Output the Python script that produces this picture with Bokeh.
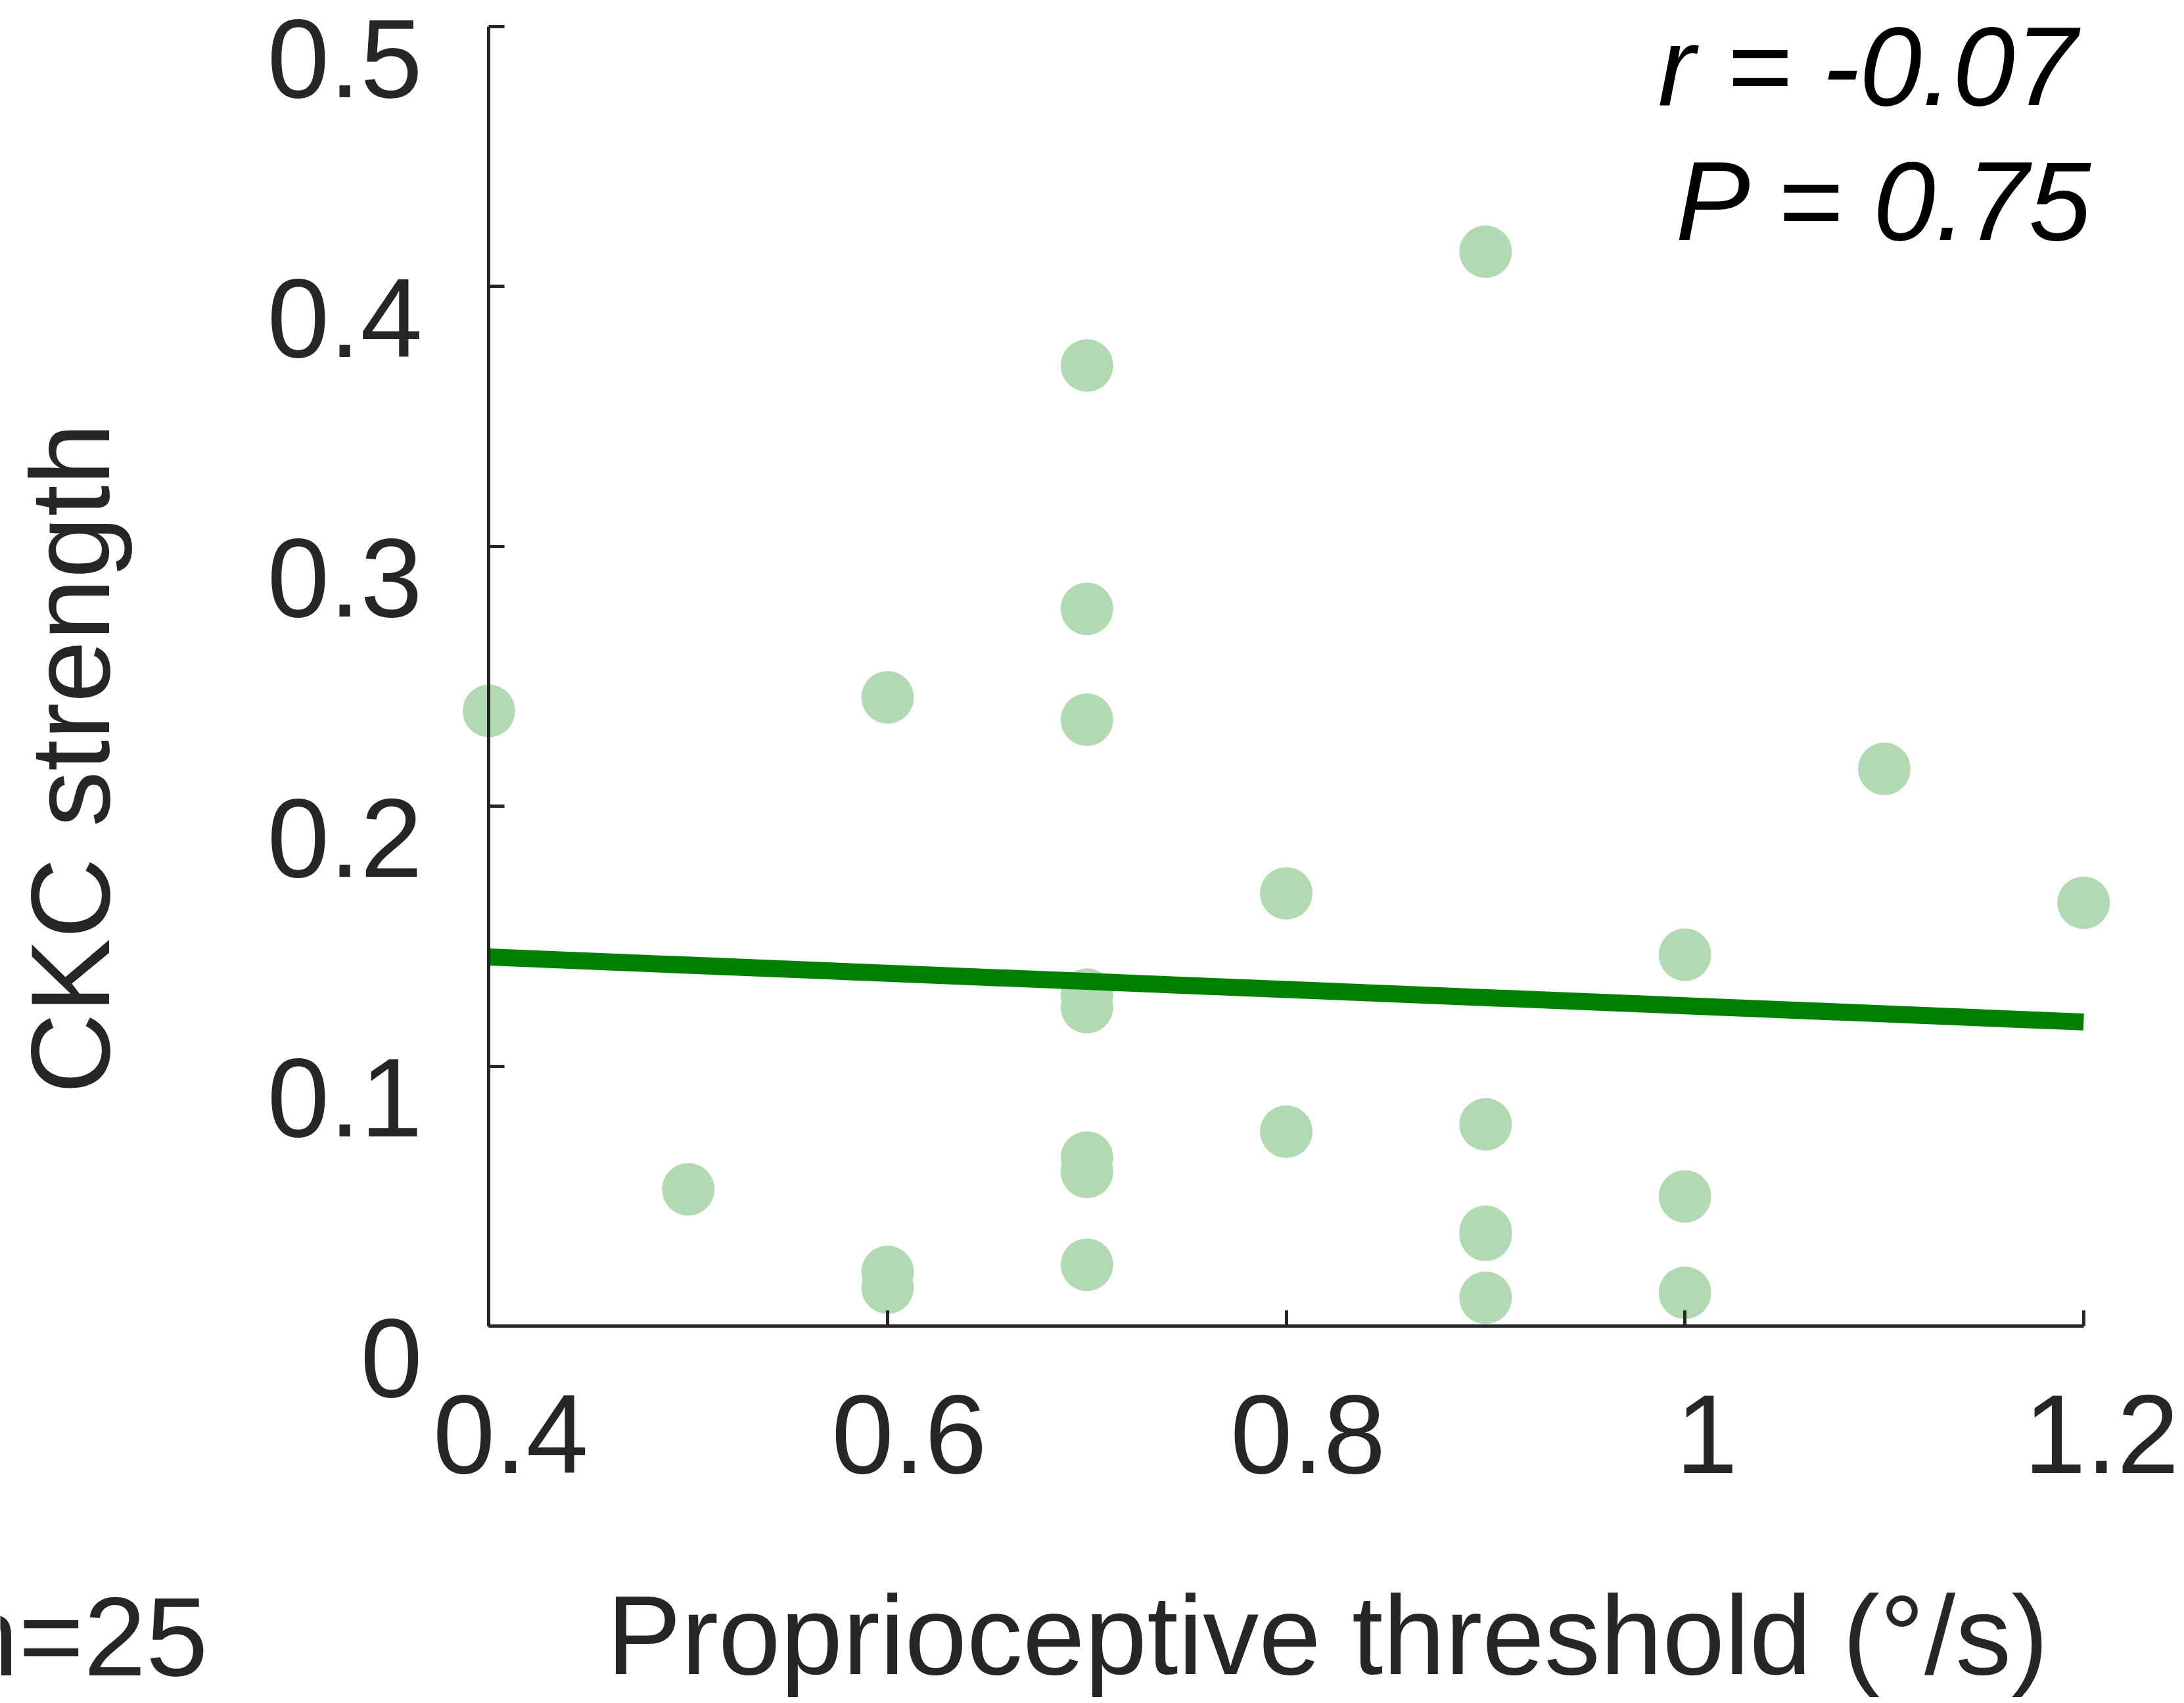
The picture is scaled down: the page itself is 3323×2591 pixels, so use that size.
import math
from bokeh.plotting import figure
from bokeh.models import Range1d, LinearAxis, FixedTicker, Label, CustomJSTickFormatter
from bokeh.embed import file_html
from bokeh.resources import INLINE

# ---------------- data ----------------
threshold = [0.4, 0.5, 0.6, 0.6, 0.6,
             0.7, 0.7, 0.7, 0.7, 0.7, 0.7, 0.7, 0.7,
             0.8, 0.8,
             0.9, 0.9, 0.9, 0.9, 0.9,
             1.0, 1.0, 1.0,
             1.1, 1.2]
ckc = [0.2367, 0.0526, 0.2419, 0.0208, 0.0148,
       0.3696, 0.2760, 0.2333, 0.1275, 0.1227, 0.0648, 0.0593, 0.0236,
       0.1665, 0.0748,
       0.4134, 0.0776, 0.0363, 0.0351, 0.0109,
       0.1429, 0.0499, 0.0128,
       0.2144, 0.1629]
fit_x = [0.4, 1.2]
fit_y = [0.1420, 0.1170]

x_ticks = [0.4, 0.6, 0.8, 1.0, 1.2]
x_tick_labels = ["0.4", "0.6", "0.8", "1", "1.2"]
y_ticks = [0.0, 0.1, 0.2, 0.3, 0.4, 0.5]
y_tick_labels = ["0", "0.1", "0.2", "0.3", "0.4", "0.5"]

x_title = "Proprioceptive threshold (°/s)"
y_title = "CKC strength"
n_text = "n=25"
r_text = "r = -0.07"
p_text = "P = 0.75"

# ---------------- layout ----------------
W, H = 3315, 2583          # canvas; the plotting frame covers all of it
PX_X = 3033.0              # screen px per x unit
PX_Y = 3954.0              # screen px per y unit
X0_PX = 743.4              # screen x of x = 0.4
Y0_PX = 2017.0             # screen y of y = 0

x_start = 0.4 - X0_PX / PX_X
x_end = x_start + W / PX_X
y_end = Y0_PX / PX_Y
y_start = y_end - H / PX_Y

FONT = "Liberation Sans"
FS = "170px"
AX = "#262626"

p = figure(width=W, height=H, frame_width=W, frame_height=H,
           x_range=Range1d(x_start, x_end), y_range=Range1d(y_start, y_end),
           output_backend="svg", toolbar_location=None,
           min_border_left=0, min_border_right=0,
           min_border_top=0, min_border_bottom=0)
p.xgrid.visible = False
p.ygrid.visible = False
p.outline_line_color = None
p.background_fill_color = "white"
p.border_fill_color = "white"

# label-only axes use slightly shifted ranges so labels sit where the reference has them
dx = 33.0 / PX_X
dy = 48.0 / PX_Y
p.extra_x_ranges = {"xlab": Range1d(x_start - dx, x_end - dx)}
p.extra_y_ranges = {"ylab": Range1d(y_start + dy, y_end + dy)}

blank = CustomJSTickFormatter(code="return ''")

for ax, loc, bnds, ticks in ((p.xaxis[0], 0.0, (0.4, 1.2), x_ticks),
                             (p.yaxis[0], 0.4, (0.0, 0.5), y_ticks)):
    ax.fixed_location = loc
    ax.bounds = bnds
    ax.ticker = FixedTicker(ticks=ticks, minor_ticks=[])
    ax.formatter = blank
    ax.major_tick_in = 24
    ax.major_tick_out = 0
    ax.minor_tick_line_color = None
    ax.axis_line_width = 5
    ax.axis_line_color = AX
    ax.major_tick_line_width = 5
    ax.major_tick_line_color = AX

xl = LinearAxis(x_range_name="xlab", fixed_location=0.0,
                ticker=FixedTicker(ticks=x_ticks, minor_ticks=[]),
                major_label_overrides={t: s for t, s in zip(x_ticks, x_tick_labels)})
yl = LinearAxis(y_range_name="ylab", fixed_location=0.4,
                ticker=FixedTicker(ticks=y_ticks, minor_ticks=[]),
                major_label_overrides={t: s for t, s in zip(y_ticks, y_tick_labels)})
for ax, so in ((xl, 105), (yl, 101)):
    ax.axis_line_color = None
    ax.major_tick_line_color = None
    ax.minor_tick_line_color = None
    ax.major_tick_in = 0
    ax.major_tick_out = 0
    ax.major_label_standoff = so
    ax.major_label_text_font = FONT
    ax.major_label_text_font_size = FS
    ax.major_label_text_color = AX
p.add_layout(xl, "below")
p.add_layout(yl, "left")

# ---------------- marks ----------------
p.scatter(threshold, ckc, size=80, marker="circle",
          fill_color="#b3d9b3", line_color=None)
p.line(fit_x, fit_y, line_width=26, line_color="#008000", line_cap="butt")

# ---------------- texts ----------------
BASE_SHIFT = 60.0   # label anchor sits this far above the wanted baseline


def px2x(px):
    return 0.4 + (px - X0_PX) / PX_X


def px2y(py):
    return (Y0_PX - py) / PX_Y


p.add_layout(Label(x=px2x(2019.5), y=px2y(2547 - BASE_SHIFT), text=x_title,
                   text_font=FONT, text_font_size=FS, text_color=AX,
                   text_align="center", text_baseline="alphabetic"))
p.add_layout(Label(x=px2x(166 - BASE_SHIFT), y=px2y(1153.5), text=y_title,
                   angle=math.pi / 2,
                   text_font=FONT, text_font_size=FS, text_color=AX,
                   text_align="center", text_baseline="alphabetic"))
p.add_layout(Label(x=px2x(316), y=px2y(2549 - BASE_SHIFT), text=n_text,
                   text_font=FONT, text_font_size=FS, text_color=AX,
                   text_align="right", text_baseline="alphabetic"))
p.add_layout(Label(x=px2x(2522), y=px2y(160 - BASE_SHIFT), text=r_text,
                   text_font=FONT, text_font_size=FS, text_color="black",
                   text_font_style="italic",
                   text_align="left", text_baseline="alphabetic"))
p.add_layout(Label(x=px2x(2549), y=px2y(365 - BASE_SHIFT), text=p_text,
                   text_font=FONT, text_font_size=FS, text_color="black",
                   text_font_style="italic",
                   text_align="left", text_baseline="alphabetic"))

open("out.html", "w").write(file_html(p, INLINE))
